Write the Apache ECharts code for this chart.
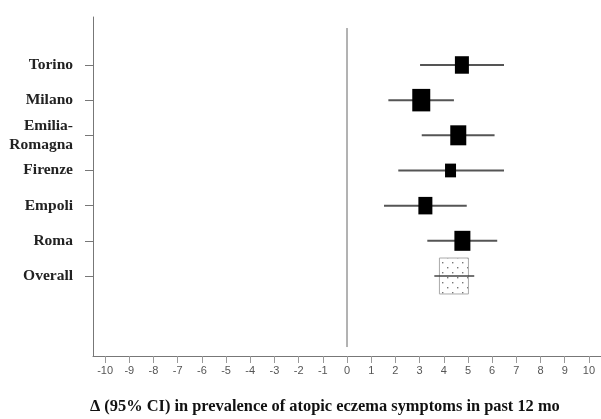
<!DOCTYPE html>
<html><head><meta charset="utf-8">
<script src="https://cdn.jsdelivr.net/npm/echarts@6/dist/echarts.min.js"></script>
<style>html,body{margin:0;padding:0;background:#fff}#c{width:601px;height:419px}</style>
</head><body><div id="c"></div>
<script>
var categories = ['Torino', 'Milano', 'Emilia-\nRomagna', 'Firenze', 'Empoli', 'Roma', 'Overall'];
var estimate = [4.75, 3.07, 4.60, 4.28, 3.24, 4.77, 4.42];
var lower    = [3.02, 1.71, 3.09, 2.12, 1.53, 3.32, 3.61];
var upper    = [6.49, 4.42, 6.10, 6.49, 4.95, 6.21, 5.26];
var weight   = [14, 18, 16, 11, 14, 16, 29];
var xTicks = [-10,-9,-8,-7,-6,-5,-4,-3,-2,-1,0,1,2,3,4,5,6,7,8,9,10];
var yTicks = [1,2,3,4,5,6,7];
var zeroLineSpan = [-1.02, 8.05];
var titleText = '\u0394 (95% CI) in prevalence of atopic eczema symptoms in past 12 mo';

var n = categories.length;
var rows = categories.map(function (c, i) {
  return [estimate[i], n - i, lower[i], upper[i], weight[i], i === n - 1 ? 1 : 0];
});

var pat = document.createElement('canvas');
pat.width = 10; pat.height = 10;
var pc = pat.getContext('2d');
pc.fillStyle = '#777';
pc.fillRect(2, 2, 1.4, 1.4);
pc.fillRect(7, 7, 1.4, 1.4);

var chart = echarts.init(document.getElementById('c'), null, {renderer: 'canvas'});
chart.setOption({
  animation: false,
  backgroundColor: '#fff',
  title: {
    text: titleText, left: 85, top: 394,
    textStyle: {fontFamily: 'Liberation Serif', fontWeight: 'bold', fontSize: 16.4, color: '#111'}
  },
  grid: {left: 93, right: 0, top: 17, bottom: 63},
  xAxis: {
    type: 'value', min: -10.5, max: 10.5,
    splitLine: {show: false},
    axisLine: {show: true, onZero: false, lineStyle: {color: '#777', width: 1}},
    axisTick: {show: true, customValues: xTicks, length: 7, lineStyle: {color: '#999'}},
    axisLabel: {customValues: xTicks, margin: 9, fontFamily: 'Liberation Sans', fontSize: 11, color: '#555'}
  },
  yAxis: {
    type: 'value', min: -1.275, max: 8.364,
    splitLine: {show: false},
    axisLine: {show: true, onZero: false, lineStyle: {color: '#777', width: 1}},
    axisTick: {show: true, customValues: yTicks, length: 8, lineStyle: {color: '#777'}},
    axisLabel: {
      customValues: yTicks, margin: 20,
      fontFamily: 'Liberation Serif', fontWeight: 'bold', fontSize: 15.5, color: '#222', lineHeight: 19,
      formatter: function (v) { return categories[n - v] || ''; }
    }
  },
  series: [
    {
      type: 'line', data: [[0, zeroLineSpan[0]], [0, zeroLineSpan[1]]],
      symbol: 'none', lineStyle: {color: '#666', width: 1}, silent: true
    },
    {
      type: 'custom', data: rows,
      renderItem: function (params, api) {
        var y = api.value(1);
        var p = api.coord([api.value(0), y]);
        var lo = api.coord([api.value(2), y]);
        var hi = api.coord([api.value(3), y]);
        var w = api.value(4);
        var pooled = api.value(5) === 1;
        var h = pooled ? w * 1.24 : w * 1.25;
        var children = [];
        if (pooled) {
          children.push({type: 'rect', shape: {x: p[0] - w / 2, y: p[1] - h / 2, width: w, height: h},
            style: {fill: {image: pat, repeat: 'repeat'}, stroke: '#aaa', lineWidth: 1}});
          children.push({type: 'line', shape: {x1: lo[0], y1: p[1], x2: hi[0], y2: p[1]},
            style: {stroke: '#444', lineWidth: 1.5}});
        } else {
          children.push({type: 'line', shape: {x1: lo[0], y1: p[1], x2: hi[0], y2: p[1]},
            style: {stroke: '#555', lineWidth: 2}});
          children.push({type: 'rect', shape: {x: p[0] - w / 2, y: p[1] - h / 2, width: w, height: h},
            style: {fill: '#000'}});
        }
        return {type: 'group', children: children};
      }
    }
  ]
});
</script></body></html>
